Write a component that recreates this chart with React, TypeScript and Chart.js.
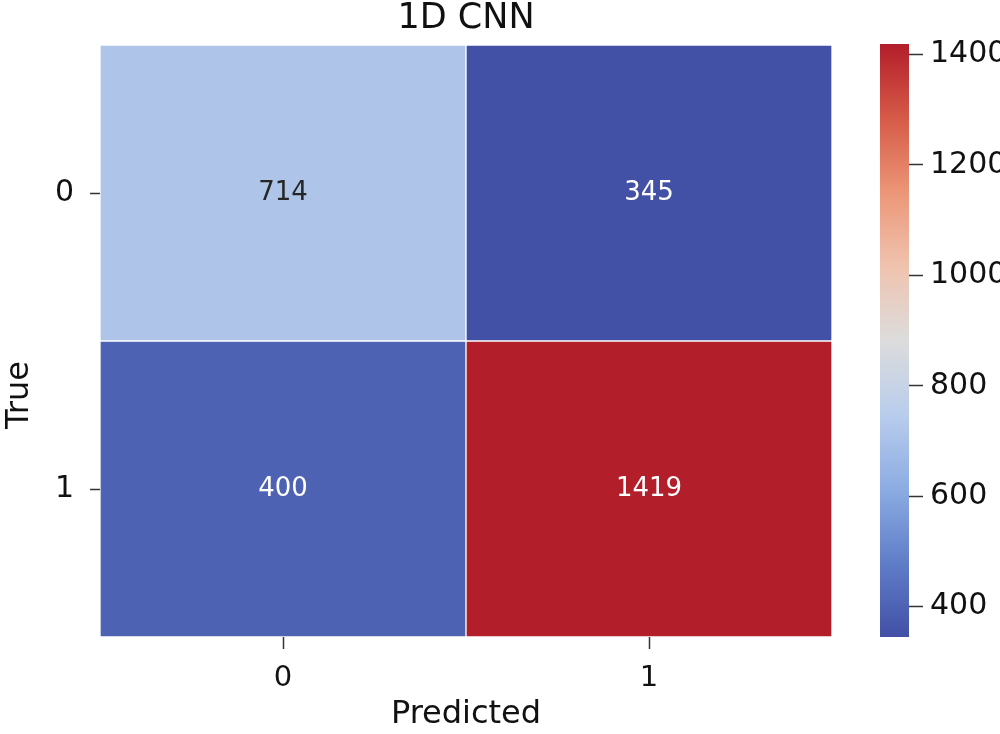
import React, { useEffect, useRef } from "react";
import { Chart, registerables } from "chart.js";

Chart.register(...registerables);

const chartTitle = "1D CNN";
const xTitle = "Predicted";
const yTitle = "True";
const predictedLabels = ["0", "1"];
const trueLabels = ["0", "1"];
const row0Values = [714, 345];
const row1Values = [400, 1419];
const colorbarTicks = [400, 600, 800, 1000, 1200, 1400];

const matrix = [row0Values, row1Values];
const allValues = [...row0Values, ...row1Values];
const vmin = Math.min(...allValues);
const vmax = Math.max(...allValues);

// coolwarm-like colormap stops [t, r, g, b]
const cmapStops: number[][] = [
  [0.0, 66, 80, 165],
  [0.125, 96, 125, 200],
  [0.25, 140, 172, 226],
  [0.375, 185, 205, 236],
  [0.5, 220, 220, 220],
  [0.625, 240, 195, 175],
  [0.75, 236, 150, 120],
  [0.875, 214, 90, 72],
  [1.0, 178, 30, 42],
];

function cmapRGB(t: number): number[] {
  t = Math.max(0, Math.min(1, t));
  for (let i = 0; i < cmapStops.length - 1; i++) {
    const a = cmapStops[i];
    const b = cmapStops[i + 1];
    if (t >= a[0] && t <= b[0]) {
      const f = (t - a[0]) / (b[0] - a[0]);
      return [1, 2, 3].map((k) => Math.round(a[k] + (b[k] - a[k]) * f));
    }
  }
  const l = cmapStops[cmapStops.length - 1];
  return [l[1], l[2], l[3]];
}
const rgbStr = (c: number[]) => `rgb(${c[0]},${c[1]},${c[2]})`;
const colorFor = (v: number) => rgbStr(cmapRGB((v - vmin) / (vmax - vmin)));
const textColorFor = (v: number) => {
  const c = cmapRGB((v - vmin) / (vmax - vmin));
  const lum = (0.299 * c[0] + 0.587 * c[1] + 0.114 * c[2]) / 255;
  return lum > 0.6 ? "#262626" : "#ffffff";
};

const FONT = "'DejaVu Sans', sans-serif";

export default function App() {
  const mainRef = useRef<HTMLCanvasElement>(null);
  const cbRef = useRef<HTMLCanvasElement>(null);

  useEffect(() => {
    const n = trueLabels.length;
    const annotate = {
      id: "annotate",
      afterDatasetsDraw(chart: any) {
        const ctx = chart.ctx;
        ctx.save();
        ctx.font = `26px ${FONT}`;
        ctx.textAlign = "center";
        ctx.textBaseline = "middle";
        chart.data.datasets.forEach((ds: any, di: number) => {
          const meta = chart.getDatasetMeta(di);
          meta.data.forEach((el: any, j: number) => {
            const v = ds.values[j];
            ctx.fillStyle = textColorFor(v);
            ctx.fillText(String(v), el.x, (el.y + el.base) / 2);
          });
        });
        ctx.restore();
      },
    };
    const yAxisTitle = {
      id: "yAxisTitle",
      afterDraw(chart: any) {
        const ctx = chart.ctx;
        ctx.save();
        ctx.font = `32px ${FONT}`;
        ctx.fillStyle = "#111";
        ctx.textAlign = "center";
        ctx.textBaseline = "middle";
        ctx.translate(20, 395);
        ctx.rotate(-Math.PI / 2);
        ctx.fillText(yTitle, 0, 0);
        ctx.restore();
      },
    };

    const main = new Chart(mainRef.current!, {
      type: "bar",
      data: {
        labels: predictedLabels,
        datasets: trueLabels.map((lab, i) => ({
          label: lab,
          data: predictedLabels.map(() => [n - 1 - i, n - i]),
          values: matrix[i],
          backgroundColor: matrix[i].map(colorFor),
          borderColor: "#ffffff",
          borderWidth: 1,
          borderSkipped: false,
          barPercentage: 1,
          categoryPercentage: 1,
          grouped: false,
        })) as any,
      },
      options: {
        responsive: false,
        animation: false,
        layout: { padding: { left: 0, right: 28, top: 0, bottom: 0 } },
        plugins: {
          legend: { display: false },
          tooltip: { enabled: false },
          title: {
            display: true,
            text: chartTitle,
            fullSize: false,
            color: "#111",
            font: { family: FONT, size: 35, weight: "normal", lineHeight: 1 },
            padding: { top: 1, bottom: 9 },
          },
        },
        scales: {
          x: {
            type: "category",
            offset: true,
            grid: {
              offset: false,
              drawOnChartArea: false,
              drawTicks: true,
              tickLength: 12,
              tickColor: "#333",
              tickWidth: 1.5,
            },
            border: { display: false },
            ticks: {
              color: "#111",
              padding: 12,
              font: { family: FONT, size: 29 },
            },
            title: {
              display: true,
              text: xTitle,
              color: "#111",
              font: { family: FONT, size: 32 },
              padding: { top: 0, bottom: 0 },
            },
            afterFit: (s: any) => {
              s.height = 97;
            },
          },
          y: {
            type: "linear",
            min: 0,
            max: n,
            afterBuildTicks: (s: any) => {
              s.ticks = trueLabels.map((_, i) => ({ value: n - 1 - i + 0.5 }));
            },
            grid: {
              drawOnChartArea: false,
              drawTicks: true,
              tickLength: 10,
              tickColor: "#333",
              tickWidth: 1.5,
            },
            border: { display: false },
            ticks: {
              color: "#111",
              padding: 16,
              font: { family: FONT, size: 30 },
              callback: (v: any) => trueLabels[n - 1 - Math.floor(Number(v))],
            },
            title: { display: false },
            afterFit: (s: any) => {
              s.width = 100;
            },
          },
        },
      },
      plugins: [annotate, yAxisTitle],
    } as any);

    const cb = new Chart(cbRef.current!, {
      type: "bar",
      data: {
        labels: ["cb"],
        datasets: [
          {
            data: [[vmin, vmax]],
            backgroundColor: (ctx: any) => {
              const chart = ctx.chart;
              const area = chart.chartArea;
              if (!area) return colorFor(vmin);
              const g = chart.ctx.createLinearGradient(0, area.bottom, 0, area.top);
              cmapStops.forEach((s) => g.addColorStop(s[0], rgbStr([s[1], s[2], s[3]])));
              return g;
            },
            borderWidth: 0,
            barPercentage: 1,
            categoryPercentage: 1,
          },
        ] as any,
      },
      options: {
        responsive: false,
        animation: false,
        layout: { padding: { left: 20, right: 0, top: 44, bottom: 97 } },
        plugins: { legend: { display: false }, tooltip: { enabled: false } },
        scales: {
          x: { display: false },
          y: {
            position: "right",
            min: vmin,
            max: vmax,
            afterBuildTicks: (s: any) => {
              s.ticks = colorbarTicks.map((v) => ({ value: v }));
            },
            grid: {
              drawOnChartArea: false,
              drawTicks: true,
              tickLength: 14,
              tickColor: "#333",
              tickWidth: 1.5,
            },
            border: { display: false },
            ticks: {
              color: "#111",
              padding: 7,
              font: { family: FONT, size: 30 },
              callback: (v: any) => String(v),
            },
            afterFit: (s: any) => {
              s.width = 91;
            },
          },
        },
      },
    } as any);

    return () => {
      main.destroy();
      cb.destroy();
    };
  }, []);

  return (
    <div
      style={{
        position: "absolute",
        left: 0,
        top: 0,
        width: 1000,
        height: 734,
        background: "#fff",
        overflow: "hidden",
      }}
    >
      <canvas
        ref={mainRef}
        width={860}
        height={734}
        style={{ position: "absolute", left: 0, top: 0, width: 860, height: 734 }}
      />
      <canvas
        ref={cbRef}
        width={140}
        height={734}
        style={{ position: "absolute", left: 860, top: 0, width: 140, height: 734 }}
      />
    </div>
  );
}
